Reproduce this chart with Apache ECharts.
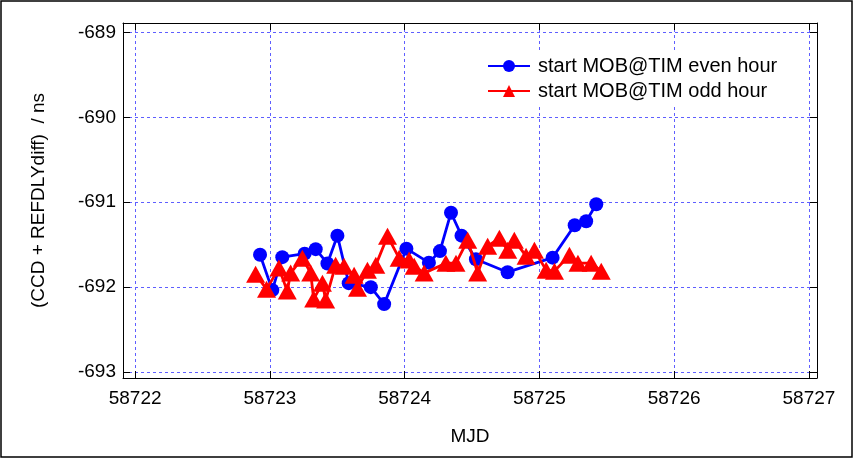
<!DOCTYPE html>
<html>
<head>
<meta charset="utf-8">
<script src="https://cdn.jsdelivr.net/npm/echarts@6/dist/echarts.min.js"></script>
<style>html,body{margin:0;padding:0;background:#fff}#c{width:854px;height:460px}</style>
</head>
<body>
<div id="c"></div>
<script>
const xTicks = [58722, 58723, 58724, 58725, 58726, 58727];
const yTicks = [-693, -692, -691, -690, -689];

const evenMJD = [58722.927, 58723.018, 58723.092, 58723.258, 58723.340, 58723.427, 58723.501, 58723.585, 58723.749, 58723.848, 58724.013, 58724.180, 58724.262, 58724.344, 58724.422, 58724.529, 58724.764, 58725.098, 58725.262, 58725.347, 58725.422];
const evenVal = [-691.618, -692.035, -691.647, -691.606, -691.553, -691.721, -691.394, -691.953, -692.000, -692.200, -691.547, -691.712, -691.576, -691.124, -691.394, -691.671, -691.824, -691.653, -691.271, -691.224, -691.024];

const oddMJD = [58722.894, 58722.975, 58723.067, 58723.129, 58723.154, 58723.241, 58723.303, 58723.325, 58723.390, 58723.414, 58723.488, 58723.550, 58723.625, 58723.650, 58723.724, 58723.786, 58723.873, 58723.959, 58724.033, 58724.071, 58724.145, 58724.306, 58724.381, 58724.468, 58724.542, 58724.616, 58724.703, 58724.765, 58724.814, 58724.901, 58724.963, 58725.050, 58725.112, 58725.223, 58725.286, 58725.384, 58725.459];
const oddVal = [-691.847, -692.024, -691.776, -692.047, -691.835, -691.659, -691.835, -692.141, -691.953, -692.153, -691.741, -691.753, -691.859, -692.012, -691.800, -691.741, -691.400, -691.659, -691.682, -691.753, -691.835, -691.718, -691.718, -691.447, -691.835, -691.518, -691.424, -691.565, -691.447, -691.635, -691.565, -691.800, -691.812, -691.624, -691.718, -691.718, -691.812];

const evenName = 'start MOB@TIM even hour';
const oddName = 'start MOB@TIM odd hour';

const FONT = 'Liberation Sans, Arial, sans-serif';
const xMin = 58721.91, xMax = 58727.06, yMin = -693.07, yMax = -688.89;
const gridColor = '#5f5fff';

const chart = echarts.init(document.getElementById('c'), null, {renderer: 'canvas'});
const axisLine = {show: true, onZero: false, lineStyle: {color: '#000', width: 1}};
chart.setOption({
  animation: false,
  backgroundColor: '#fff',
  graphic: [{
    type: 'rect', shape: {x: 1, y: 1, width: 851, height: 456},
    style: {fill: 'none', stroke: '#000', lineWidth: 1.5}, z: 100
  }],
  grid: {left: 123, right: 37, top: 23, bottom: 82, containLabel: false},
  legend: {
    data: [evenName, oddName],
    orient: 'vertical', left: 477, top: 52,
    backgroundColor: '#fff', padding: [4, 14, 6, 10],
    itemWidth: 42, itemHeight: 15, itemGap: 5,
    textStyle: {fontFamily: FONT, fontSize: 20, color: '#000', padding: [0, 0, 0, 3]}
  },
  xAxis: [{
    type: 'value', min: xMin, max: xMax, position: 'bottom',
    name: 'MJD', nameLocation: 'middle', nameGap: 49,
    nameTextStyle: {fontFamily: FONT, fontSize: 19, color: '#000'},
    axisLine: axisLine,
    axisTick: {show: true, inside: true, length: 7, customValues: xTicks, lineStyle: {color: '#000'}},
    axisLabel: {customValues: xTicks, margin: 11, fontFamily: FONT, fontSize: 19, color: '#000', formatter: v => String(v)},
    splitLine: {show: true, lineStyle: {color: gridColor, type: [3, 3], width: 1}}
  }, {
    type: 'value', min: xMin, max: xMax, position: 'top',
    axisLine: axisLine,
    axisTick: {show: true, inside: true, length: 7, customValues: xTicks, lineStyle: {color: '#000'}},
    axisLabel: {show: false}, splitLine: {show: false}
  }],
  yAxis: [{
    type: 'value', min: yMin, max: yMax, position: 'left',
    name: '(CCD + REFDLYdiff)  / ns', nameLocation: 'middle', nameGap: 75,
    nameTextStyle: {fontFamily: FONT, fontSize: 19, color: '#000'},
    axisLine: axisLine,
    axisTick: {show: true, inside: true, length: 7, customValues: yTicks, lineStyle: {color: '#000'}},
    axisLabel: {customValues: yTicks, margin: 7, fontFamily: FONT, fontSize: 19, color: '#000', formatter: v => String(v)},
    splitLine: {show: true, lineStyle: {color: gridColor, type: [3, 3], width: 1}}
  }, {
    type: 'value', min: yMin, max: yMax, position: 'right',
    axisLine: axisLine,
    axisTick: {show: true, inside: true, length: 7, customValues: yTicks, lineStyle: {color: '#000'}},
    axisLabel: {show: false}, splitLine: {show: false}
  }],
  series: [{
    name: evenName, type: 'line', xAxisIndex: 0, yAxisIndex: 0,
    data: evenMJD.map((x, i) => [x, evenVal[i]]),
    symbol: 'circle', symbolSize: 14, showAllSymbol: true,
    itemStyle: {color: '#0000ff'}, lineStyle: {color: '#0000ff', width: 2.8}, z: 3
  }, {
    name: oddName, type: 'line', xAxisIndex: 0, yAxisIndex: 0,
    data: oddMJD.map((x, i) => [x, oddVal[i]]),
    symbol: 'triangle', symbolSize: [19, 17], showAllSymbol: true,
    itemStyle: {color: '#ff0000'}, lineStyle: {color: '#ff0000', width: 2.8}, z: 4
  }]
});
</script>
</body>
</html>
